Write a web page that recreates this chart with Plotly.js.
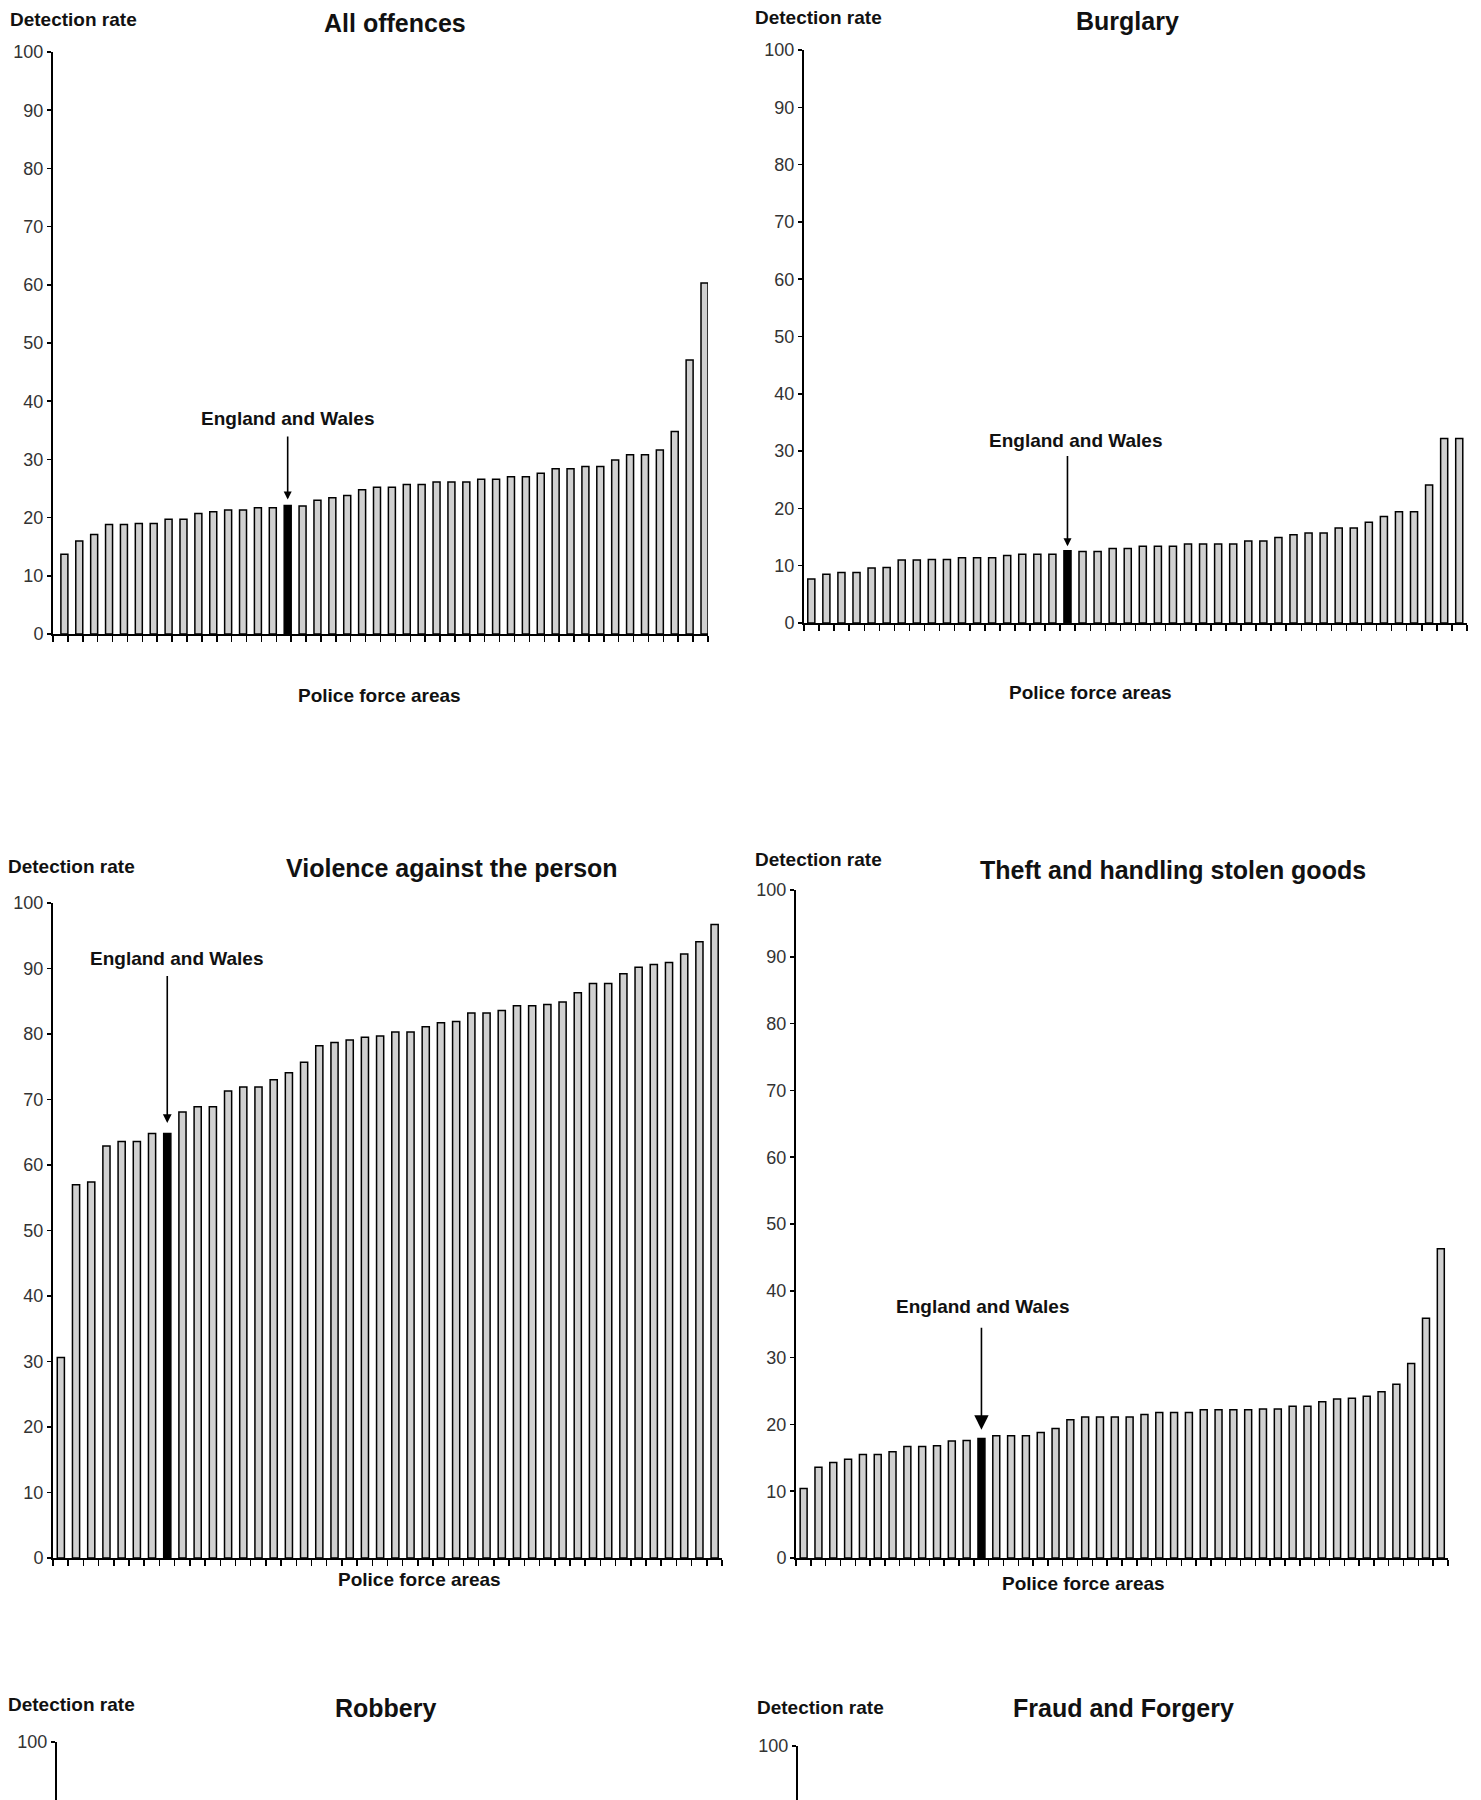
<!DOCTYPE html>
<html>
<head>
<meta charset="utf-8">
<script src="https://cdn.plot.ly/plotly-3.0.1.min.js"></script>
<style>
  html, body { margin: 0; padding: 0; background: #fff; }
  #wrap { width: 1481px; height: 1800px; overflow: hidden; position: relative; }
</style>
</head>
<body>
<div id="wrap"><div id="chart"></div></div>
<script>
// ---- Data (detection rates, %, police force areas sorted ascending; England and Wales highlighted) ----
const allOffences = [13.7,16.0,17.1,18.8,18.8,19.0,19.0,19.7,19.7,20.7,
                     21.0,21.3,21.3,21.7,21.7,22.1,22.0,23.0,23.4,23.8,
                     24.8,25.2,25.2,25.7,25.7,26.1,26.1,26.1,26.6,26.6,
                     27.0,27.0,27.6,28.4,28.4,28.8,28.8,29.9,30.8,30.8,
                     31.6,34.8,47.1,60.3];
const allOffencesEW = 15;

const burglary = [7.7,8.5,8.8,8.8,9.6,9.7,11.0,11.0,11.1,11.1,
                  11.4,11.4,11.4,11.8,12.0,12.0,12.0,12.6,12.5,12.5,
                  13.0,13.0,13.4,13.4,13.4,13.8,13.8,13.8,13.8,14.3,
                  14.3,14.9,15.4,15.7,15.7,16.6,16.6,17.6,18.6,19.4,
                  19.4,24.1,32.2,32.2];
const burglaryEW = 17;

const violence = [30.6,57.0,57.4,62.9,63.6,63.6,64.8,64.8,68.1,68.9,
                  68.9,71.3,71.9,71.9,73.0,74.1,75.7,78.2,78.7,79.1,
                  79.5,79.7,80.3,80.3,81.1,81.7,81.9,83.2,83.2,83.6,
                  84.3,84.3,84.5,84.9,86.3,87.7,87.7,89.2,90.2,90.6,
                  90.9,92.2,94.1,96.7];
const violenceEW = 7;

const theft = [10.4,13.6,14.3,14.8,15.5,15.5,15.9,16.7,16.7,16.8,
               17.5,17.6,17.9,18.3,18.3,18.3,18.8,19.4,20.7,21.1,
               21.1,21.1,21.1,21.5,21.8,21.8,21.8,22.2,22.2,22.2,
               22.2,22.3,22.3,22.7,22.7,23.4,23.8,23.9,24.2,24.9,
               26.0,29.1,35.9,46.3];
const theftEW = 12;

// Robbery and Fraud panels are cut off by the page edge: no bars are visible.
const robbery = [];
const fraud = [];

const panelTitles = ['All offences','Burglary','Violence against the person',
                     'Theft and handling stolen goods','Robbery','Fraud and Forgery'];
const yAxisLabel = 'Detection rate';
const xAxisLabel = 'Police force areas';
const ewLabel = 'England and Wales';

// ---- Layout helpers ----
const W = 1481, H = 1860;
const fx = px => px / W;
const fy = py => 1 - py / H;
const FONT = 'Liberation Sans, Arial, Helvetica, sans-serif';

const nAreas = allOffences.length;
const boundaries = [];
for (let i = 0; i <= nAreas; i++) boundaries.push(i - 0.5);

// panel geometry in pixels: [left, right, top(100), bottom]
const panels = [
  {vals: allOffences, ew: allOffencesEW, box: [53, 708, 52, 634], offset: 0.03, bw: 0.47,
   lab: [73, 20], title: [395, 23], pfa: [379, 695], ewText: [15.3, 37.0], arrow: [34.2, 23.1], asz: 1.0},
  {vals: burglary, ew: burglaryEW, box: [804, 1467, 50, 623], offset: -0.25, bw: 0.47,
   lab: [818, 17], title: [1127, 21], pfa: [1090, 692], ewText: [17.55, 31.8], arrow: [29.4, 13.4], asz: 1.0},
  {vals: violence, ew: violenceEW, box: [53, 722, 903, 1558], offset: -0.22, bw: 0.47,
   lab: [71, 866], title: [452, 868], pfa: [419, 1579], ewText: [7.65, 91.6], arrow: [89.1, 66.4], asz: 1.1},
  {vals: theft, ew: theftEW, box: [796, 1448, 890, 1558], offset: -0.22, bw: 0.47,
   lab: [818, 859], title: [1173, 870], pfa: [1083, 1583], ewText: [12.1, 37.7], arrow: [34.7, 19.2], asz: 1.8}
];
const emptyPanels = [
  {vals: robbery, box: [57, 722, 1742, 1860], lab: [71, 1704], title: [386, 1708], ppu: 6.55},
  {vals: fraud, box: [798, 1448, 1746, 1860], lab: [820, 1707], title: [1123, 1708], ppu: 7.2}
];

const traces = [];
const layout = {
  width: W, height: H,
  margin: {l: 0, r: 0, t: 0, b: 0},
  paper_bgcolor: '#fff', plot_bgcolor: 'rgba(0,0,0,0)',
  showlegend: false,
  font: {family: FONT, color: '#111'},
  annotations: []
};

function axisPair(k, box, yRange) {
  const xs = k === 1 ? '' : String(k);
  layout['xaxis' + xs] = {
    domain: [fx(box[0]), fx(box[1])], range: [-0.5, nAreas - 0.5], anchor: 'y' + xs,
    showline: true, linecolor: '#000', linewidth: 2,
    ticks: 'outside', ticklen: 6, tickwidth: 1.5, tickcolor: '#000',
    tickmode: 'array', tickvals: boundaries, showticklabels: false,
    showgrid: false, zeroline: false, fixedrange: true
  };
  layout['yaxis' + xs] = {
    domain: [fy(box[3]), fy(box[2])], range: yRange, anchor: 'x' + xs,
    tickmode: 'linear', tick0: 0, dtick: 10,
    showline: true, linecolor: '#000', linewidth: 2,
    ticks: 'outside', ticklen: 4, tickwidth: 1.5, tickcolor: '#000',
    tickfont: {family: FONT, size: 18, color: '#333'},
    showgrid: false, zeroline: false, fixedrange: true
  };
}

function textAnn(txt, x, y, size) {
  layout.annotations.push({
    text: txt, xref: 'paper', yref: 'paper', x: fx(x), y: fy(y),
    xanchor: 'center', yanchor: 'middle', showarrow: false,
    font: {family: FONT, size: size, color: '#111', weight: 'bold'}
  });
}

panels.forEach((p, idx) => {
  const k = idx + 1;
  const xs = k === 1 ? '' : String(k);
  axisPair(k, p.box, [0, 100]);
  traces.push({
    type: 'bar',
    x: p.vals.map((_, i) => i),
    y: p.vals,
    xaxis: 'x' + xs, yaxis: 'y' + xs,
    width: p.bw, offset: p.offset,
    marker: {
      color: p.vals.map((_, i) => i === p.ew ? '#000' : '#d0d0d0'),
      line: {color: '#000', width: 1.5}
    },
    hoverinfo: 'skip'
  });
  textAnn(yAxisLabel, p.lab[0], p.lab[1], 19);
  textAnn(panelTitles[idx], p.title[0], p.title[1], 25);
  textAnn(xAxisLabel, p.pfa[0], p.pfa[1], 19);
  layout.annotations.push({
    text: ewLabel, xref: 'x' + xs, yref: 'y' + xs, x: p.ewText[0], y: p.ewText[1],
    xanchor: 'center', yanchor: 'middle', showarrow: false,
    font: {family: FONT, size: 19, color: '#111', weight: 'bold'}
  });
  const ax = p.ew + p.offset + p.bw / 2;
  layout.annotations.push({
    text: '', xref: 'x' + xs, yref: 'y' + xs, x: ax, y: p.arrow[1],
    axref: 'x' + xs, ayref: 'y' + xs, ax: ax, ay: p.arrow[0],
    showarrow: true, arrowhead: 2, arrowsize: p.asz, arrowwidth: 1.6,
    arrowcolor: '#000', standoff: 0, startstandoff: 0
  });
});

emptyPanels.forEach((p, j) => {
  const k = 5 + j;
  const xs = String(k);
  const bottomVal = 100 - (p.box[3] - p.box[2]) / p.ppu;
  axisPair(k, p.box, [bottomVal, 100]);
  traces.push({
    type: 'bar', x: p.vals.map((_, i) => i), y: p.vals,
    xaxis: 'x' + xs, yaxis: 'y' + xs,
    marker: {color: '#d0d0d0', line: {color: '#000', width: 1.5}},
    hoverinfo: 'skip'
  });
  textAnn(yAxisLabel, p.lab[0], p.lab[1], 19);
  textAnn(panelTitles[4 + j], p.title[0], p.title[1], 25);
});

Plotly.newPlot('chart', traces, layout, {staticPlot: true, displayModeBar: false});
</script>
</body>
</html>
